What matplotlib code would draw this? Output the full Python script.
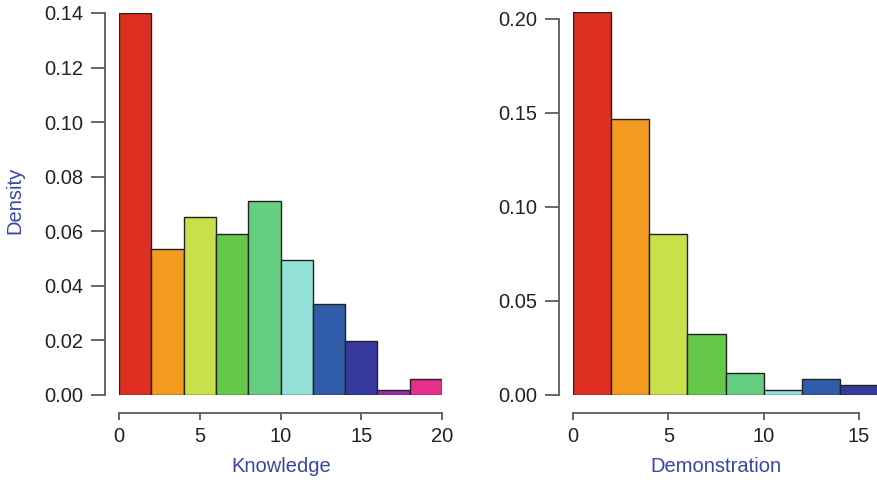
import numpy as np
import matplotlib
matplotlib.use("Agg")
import matplotlib.pyplot as plt

plt.rcParams["font.family"] = ["Liberation Sans", "DejaVu Sans"]

# --- data ----------------------------------------------------------------
know_edges = np.arange(0, 22, 2)
know_dens = [0.140, 0.0535, 0.0652, 0.0590, 0.0711, 0.0495, 0.0333, 0.0198, 0.0018, 0.0058]
know_colors = ["#DE3022", "#F39A20", "#C8E04A", "#66C84A", "#66CE82",
               "#93E0D8", "#2F5DAA", "#36399E", "#9B2BB5", "#E62F8A"]

demo_edges = np.arange(0, 18, 2)
demo_dens = [0.2037, 0.147, 0.0856, 0.0324, 0.0117, 0.0024, 0.0085, 0.0055]
demo_colors = know_colors[:8]

LABEL_C = "#3A45A8"
SPINE_C = "#5a5a5a"
FIG_W, FIG_H = 877, 482
FS = 14.5


def r_axes(ax, xbounds, ybounds, yoff):
    for s in ("top", "right"):
        ax.spines[s].set_visible(False)
    ax.spines["left"].set_position(("outward", yoff))
    ax.spines["bottom"].set_position(("outward", 12.7))
    ax.spines["left"].set_bounds(*ybounds)
    ax.spines["bottom"].set_bounds(*xbounds)
    for s in ("left", "bottom"):
        ax.spines[s].set_color(SPINE_C)
        ax.spines[s].set_linewidth(1.3)
    ax.tick_params(axis="y", length=10, width=1.3, color=SPINE_C, pad=6,
                   labelsize=FS, labelcolor="#222222")
    ax.tick_params(axis="x", length=5, width=1.3, color=SPINE_C, pad=5,
                   labelsize=FS, labelcolor="#222222")


fig = plt.figure(figsize=(FIG_W / 100, FIG_H / 100), dpi=100, facecolor="w")

# (a) Knowledge
ax1 = fig.add_axes([119 / FIG_W, (FIG_H - 395) / FIG_H, 323 / FIG_W, 382 / FIG_H])
ax1.bar(know_edges[:-1], know_dens, width=np.diff(know_edges), align="edge",
        color=know_colors, edgecolor="#222222", linewidth=1.0)
ax1.set_xlim(0, 20)
ax1.set_ylim(0, 0.14)
ax1.set_xticks([0, 5, 10, 15, 20])
ax1.set_yticks(np.arange(0, 0.141, 0.02))
ax1.set_yticklabels([f"{v:.2f}" for v in np.arange(0, 0.141, 0.02)])
r_axes(ax1, (0, 20), (0, 0.14), 10)
ax1.set_xlabel("Knowledge", color=LABEL_C, fontsize=FS)
ax1.xaxis.set_label_coords(0.5016, -0.162)
ax1.set_ylabel("Density", color=LABEL_C, fontsize=FS)
ax1.yaxis.set_label_coords(-0.294, 0.51)

# (b) Demonstration
ax2 = fig.add_axes([573 / FIG_W, (FIG_H - 395) / FIG_H, 305 / FIG_W, 383 / FIG_H])
ax2.bar(demo_edges[:-1], demo_dens, width=np.diff(demo_edges), align="edge",
        color=demo_colors, edgecolor="#222222", linewidth=1.0)
ax2.set_xlim(0, 16)
ax2.set_ylim(0, 0.2037)
ax2.set_xticks([0, 5, 10, 15])
ax2.set_yticks(np.arange(0, 0.201, 0.05))
ax2.set_yticklabels([f"{v:.2f}" for v in np.arange(0, 0.201, 0.05)])
r_axes(ax2, (0, 15), (0, 0.20), 10)
ax2.set_xlabel("Demonstration", color=LABEL_C, fontsize=FS)
ax2.xaxis.set_label_coords(0.469, -0.162)

fig.savefig("out.png", dpi=100)
plt.close(fig)
